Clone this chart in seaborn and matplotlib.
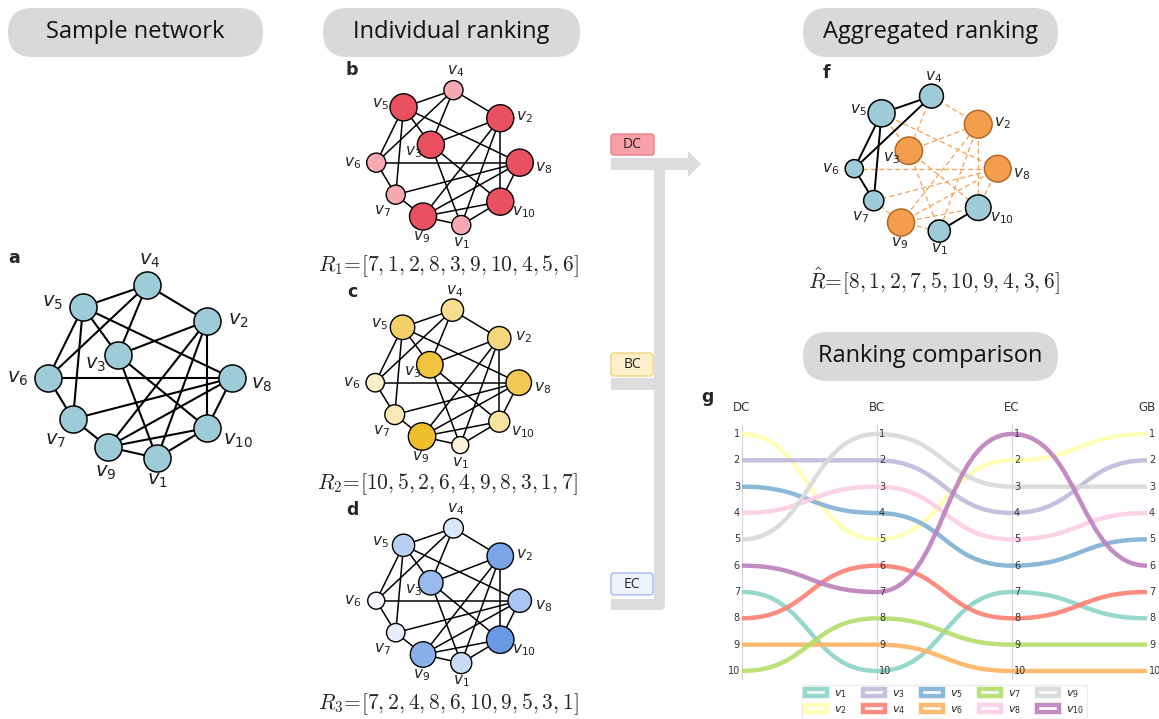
import matplotlib
matplotlib.use("Agg")
import numpy as np
import pandas as pd
import matplotlib.pyplot as plt
import seaborn as sns
from matplotlib.patches import FancyBboxPatch, Rectangle, Polygon, PathPatch
from matplotlib.path import Path
from matplotlib.colors import LinearSegmentedColormap
from matplotlib.transforms import offset_copy

# ---------------- data ----------------
node_ids = list(range(1, 11))
node_names = [f"v{i}" for i in node_ids]
edges = [(4, 5), (4, 2), (4, 3), (4, 6), (5, 6), (5, 7), (5, 3), (5, 8),
         (6, 8), (6, 7), (7, 8), (7, 9), (9, 1), (9, 2), (9, 8), (9, 10),
         (3, 2), (3, 1), (3, 10), (2, 1), (2, 10), (8, 10), (1, 10)]
rank_dc = [7, 1, 2, 8, 3, 9, 10, 4, 5, 6]
rank_bc = [10, 5, 2, 6, 4, 9, 8, 3, 1, 7]
rank_ec = [7, 2, 4, 8, 6, 10, 9, 5, 3, 1]
rank_gb = [8, 1, 2, 7, 5, 10, 9, 4, 3, 6]
methods = ["DC", "BC", "EC", "GB"]
rank_levels = list(range(1, 11))
top_k = 4

# node layout (unit space) and label offsets
layout_x = [0.17, 0.67, -0.22, 0.07, -0.57, -0.92, -0.67, 0.92, -0.32, 0.67]
layout_y = [-0.86, 0.51, 0.17, 0.87, 0.65, -0.06, -0.47, -0.06, -0.75, -0.56]
label_dx = [0.00, 0.31, -0.22, 0.03, -0.30, -0.30, -0.17, 0.30, -0.02, 0.31]
label_dy = [-0.23, 0.01, -0.10, 0.24, 0.04, 0.00, -0.21, -0.07, -0.26, -0.13]

# ---------------- style ----------------
sns.set_style("white")
plt.rcParams["font.family"] = ["DejaVu Sans"]
plt.rcParams["mathtext.fontset"] = "dejavusans"

W, H = 1159, 719
fig = plt.figure(figsize=(W / 100, H / 100), dpi=100)
canvas = fig.add_axes([0, 0, 1, 1])
canvas.set_xlim(0, W)
canvas.set_ylim(H, 0)
canvas.axis("off")


def px_axes(x0, y0, w, h):
    ax = fig.add_axes([x0 / W, 1 - (y0 + h) / H, w / W, h / H])
    ax.patch.set_alpha(0)
    return ax


def net_axes(cx, cy, scale, w=300, h=250):
    ax = px_axes(cx - w / 2, cy - h / 2, w, h)
    ax.set_xlim(-w / 2 / scale, w / 2 / scale)
    ax.set_ylim(-h / 2 / scale, h / 2 / scale)
    ax.axis("off")
    return ax


net_df = pd.DataFrame({"node": node_names, "x": layout_x, "y": layout_y})


def draw_edges(ax, edge_list, **kw):
    for a, b in edge_list:
        ax.plot([layout_x[a - 1], layout_x[b - 1]], [layout_y[a - 1], layout_y[b - 1]],
                zorder=1, **kw)


def draw_labels(ax, fs):
    for i in range(10):
        ax.text(layout_x[i] + label_dx[i], layout_y[i] + label_dy[i], rf"$v_{{{i + 1}}}$",
                fontsize=fs, ha="center", va="center", color="#222222", zorder=4)


def pill(x0, y0, w, h, text):
    canvas.add_patch(FancyBboxPatch((x0, y0), w, h,
                                    boxstyle=f"round,pad=0,rounding_size={h / 2}",
                                    fc="#d9d9d9", ec="none"))
    canvas.text(x0 + w / 2, y0 + h / 2, text, ha="center", va="center",
                fontsize=17, family="Open Sans", color="#111111")


def badge(x0, y0, w, h, text, fc, ec):
    canvas.add_patch(FancyBboxPatch((x0, y0), w, h,
                                    boxstyle="round,pad=0,rounding_size=3",
                                    fc=fc, ec=ec, lw=1.0))
    canvas.text(x0 + w / 2, y0 + h / 2 + 0.5, text, ha="center", va="center",
                fontsize=10, family="Open Sans", color="#222222")


def panel_letter(x, y, s):
    canvas.text(x, y, s, fontsize=12.5, fontweight="bold", ha="center", va="center")


# ---------------- headers ----------------
pill(8, 8, 255, 49, "Sample network")
pill(323, 8, 257, 49, "Individual ranking")
pill(803, 8, 255, 49, "Aggregated ranking")
pill(803, 332, 255, 49, "Ranking comparison")

# ---------------- panel a: sample network ----------------
ax_a = net_axes(140, 372, 100)
draw_edges(ax_a, edges, color="black", lw=1.5)
sns.scatterplot(data=net_df, x="x", y="y", color="#9ecbd8", s=380, edgecolor="black",
                linewidth=1.1, zorder=3, legend=False, ax=ax_a)
draw_labels(ax_a, 14)
panel_letter(14, 258, "a")

# ---------------- panels b-d: individual rankings ----------------
degree = [sum(1 for e in edges if n in e) for n in node_ids]


def ranked_network(cx, cy, values, vmin, vmax, c_lo, c_hi, sizes, ranks, name, fy, letter, ly):
    ax = net_axes(cx, cy, 78)
    draw_edges(ax, edges, color="black", lw=1.1)
    df = net_df.assign(score=values)
    cmap = LinearSegmentedColormap.from_list(letter, [c_lo, c_hi])
    sns.scatterplot(data=df, x="x", y="y", hue="score", palette=cmap, hue_norm=(vmin, vmax),
                    size="score", sizes=sizes, size_norm=(vmin, vmax), edgecolor="black",
                    linewidth=1.0, zorder=3, legend=False, ax=ax)
    draw_labels(ax, 11)
    txt = ",".join(str(r) for r in ranks)
    canvas.text(cx, fy, rf"${name}\!=\![{txt}]$", ha="center", va="center",
                fontsize=15.5, math_fontfamily="cm")
    panel_letter(352, ly, letter)


ranked_network(448, 158, degree, 4, 5, "#f6a9b1", "#ea5060", (190, 380), rank_dc,
               "R_1", 266, "b", 70)
ranked_network(447, 378, [11 - r for r in rank_bc], 1, 10, "#fdf5dc", "#efbe2c",
               (150, 390), rank_bc, "R_2", 484, "c", 292)
ranked_network(448, 596, [11 - r for r in rank_ec], 1, 10, "#f8faff", "#6a9ae6",
               (150, 390), rank_ec, "R_3", 704, "d", 510)

# ---------------- flow connectors ----------------
bar_c = "#dcdcdc"
canvas.add_patch(Rectangle((611, 158), 78, 12, fc=bar_c, ec="none"))
canvas.add_patch(Polygon([(688, 151), (701, 164), (688, 177)], closed=True, fc=bar_c, ec="none"))
canvas.add_patch(FancyBboxPatch((654, 158), 11, 452, boxstyle="round,pad=0,rounding_size=5",
                                fc=bar_c, ec="none"))
canvas.add_patch(Rectangle((611, 378), 45, 12, fc=bar_c, ec="none"))
canvas.add_patch(Rectangle((611, 599), 50, 11, fc=bar_c, ec="none"))
badge(611, 134, 43, 21, "DC", "#f9a1a9", "#ee7c86")
badge(611, 353, 42, 23, "BC", "#fdf0cb", "#f2d37a")
badge(611, 573, 42, 22, "EC", "#eef3fd", "#9ebcf0")

# ---------------- panel f: aggregated ranking ----------------
ax_f = net_axes(926, 164, 78)
top_nodes = {n for n, r in zip(node_ids, rank_gb) if r <= top_k}
solid = [e for e in edges if e[0] not in top_nodes and e[1] not in top_nodes]
dashed = [e for e in edges if e[0] in top_nodes or e[1] in top_nodes]
draw_edges(ax_f, dashed, color="#f4a154", lw=0.9, dashes=(4, 2.5))
draw_edges(ax_f, solid, color="black", lw=1.4)
df_f = net_df.assign(score=[11 - r for r in rank_gb],
                     top=[n in top_nodes for n in node_ids])
sns.scatterplot(data=df_f[~df_f.top], x="x", y="y", color="#9ecbd8", size="score",
                sizes=(170, 380), size_norm=(1, 6), edgecolor="black", linewidth=1.1,
                zorder=3, legend=False, ax=ax_f)
sns.scatterplot(data=df_f[df_f.top], x="x", y="y", color="#f39e4c", size="score",
                sizes=(370, 400), size_norm=(7, 10), edgecolor="#b5672a", linewidth=1.1,
                zorder=3, legend=False, ax=ax_f)
draw_labels(ax_f, 11)
txt_gb = ",".join(str(r) for r in rank_gb)
canvas.text(934, 281, rf"$\hat{{R}}\!=\![{txt_gb}]$", ha="center", va="center",
            fontsize=15.5, math_fontfamily="cm")
panel_letter(826, 73, "f")

# ---------------- panel g: ranking comparison ----------------
per_rank = 26.33
ax_g = px_axes(742, 434 - 0.35 * per_rank, 405, 9.7 * per_rank)
ax_g.set_xlim(0, 3)
ax_g.set_ylim(10.35, 0.65)
for s in ax_g.spines.values():
    s.set_visible(False)
for j in range(len(methods)):
    ax_g.axvline(j, color="#d4d4d4", lw=0.8, zorder=1)

palette = sns.color_palette("Set3", 10)
rank_table = np.array([rank_dc, rank_bc, rank_ec, rank_gb]).T
for i, ranks in enumerate(rank_table):
    verts = [(0, ranks[0])]
    codes = [Path.MOVETO]
    for j in range(len(methods) - 1):
        verts += [(j + 0.5, ranks[j]), (j + 0.5, ranks[j + 1]), (j + 1, ranks[j + 1])]
        codes += [Path.CURVE4] * 3
    ax_g.add_patch(PathPatch(Path(verts, codes), fc="none", ec=palette[i], lw=3.2,
                             alpha=0.9, clip_on=False, zorder=2, label=rf"$v_{{{i + 1}}}$"))

ax_g.set_xticks(range(len(methods)))
ax_g.set_xticklabels(methods, fontsize=8.5, color="#333333")
ax_g.xaxis.tick_top()
ax_g.tick_params(axis="x", length=0, pad=8)
ax_g.set_yticks([])
for j in range(len(methods)):
    ha = "right" if j == 0 else "left"
    tr = offset_copy(ax_g.transData, fig=fig, x=-2 if j == 0 else 2, y=0, units="dots")
    for r in rank_levels:
        ax_g.text(j, r, str(r), transform=tr, ha=ha, va="center", fontsize=7,
                  color="#333333", zorder=5)

ax_g.legend(ncol=5, loc="upper center", bbox_to_anchor=(0.5, -0.02), borderaxespad=0,
            fontsize=8, frameon=True, fancybox=False, edgecolor="#e8e8e8",
            handlelength=2.0, handleheight=0.6, columnspacing=1.45, labelspacing=0.35,
            borderpad=0.3, handletextpad=0.6)
panel_letter(707, 397, "g")

fig.savefig("out.png", dpi=100)
